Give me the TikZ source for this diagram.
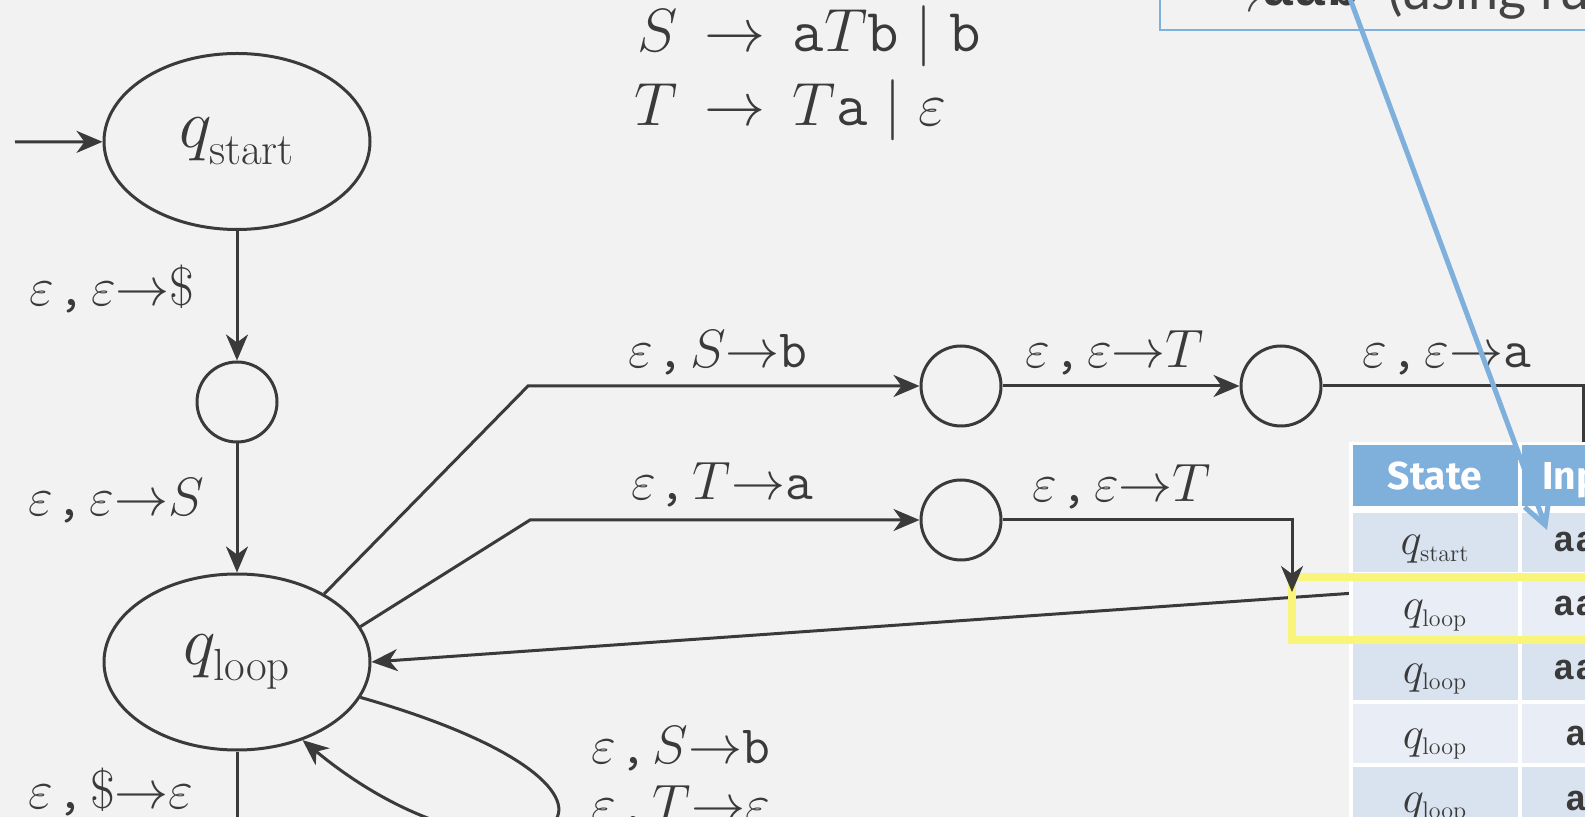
\RequirePackage{fix-cm}
\documentclass[tikz,border=0pt]{standalone}
\usepackage{fontspec}
\usepackage{amsmath}
\usetikzlibrary{arrows.meta,shapes.geometric}
\newfontfamily\firafont{Fira Sans}
\newfontfamily\lmonofont{Liberation Mono}
\newfontfamily\latofont{Lato}
\definecolor{bg}{HTML}{F2F2F2}
\definecolor{dk}{HTML}{3A3A3A}
\definecolor{blu}{HTML}{7FB0DC}
\definecolor{rowA}{HTML}{D9E3EF}
\definecolor{rowB}{HTML}{E9EDF5}
\definecolor{yel}{HTML}{F8F57A}
\definecolor{anntext}{HTML}{444444}
\newcommand\lblsize{\fontsize{27pt}{32pt}\selectfont}
\newcommand\tto{\mathord{\to}}
\newcommand\gto{\mathrel{\,\to\,}}
\newcommand\ve{\varepsilon}
\newcommand\cma{\mkern1mu\texttt{,}\mkern2mu}
\newcommand\bigsub[1]{\raisebox{-3pt}{\fontsize{22.5pt}{24pt}\selectfont #1}}
\begin{document}
\begin{tikzpicture}[x=0.5pt,y=-0.5pt,
  statenode/.style={ellipse, draw=dk, line width=1.5pt, fill=bg, minimum width=133pt, minimum height=88pt, inner sep=0pt, text=dk},
  midnode/.style={circle, draw=dk, line width=1.5pt, fill=bg, minimum size=40pt, inner sep=0pt},
  edge/.style={draw=dk, line width=1.5pt},
  arr/.style={edge, -{Stealth[length=13pt,width=11pt,inset=4pt]}},
  lbl/.style={anchor=base, inner sep=0pt, text=dk, font=\lblsize},
  gram/.style={anchor=base west, inner sep=0pt, text=dk, font=\fontsize{30.5pt}{36pt}\selectfont},
  cellq/.style={anchor=base, inner sep=0pt, text=dk, font=\fontsize{22.5pt}{26pt}\selectfont},
  cellmono/.style={anchor=base west, inner sep=0pt, text=dk, font=\lmonofont\bfseries\fontsize{18pt}{22pt}\selectfont},
  hdrtext/.style={anchor=base, inner sep=0pt, text=white, font=\firafont\bfseries\fontsize{19.5pt}{23pt}\selectfont}
]
\useasboundingbox (0,0) rectangle (1585,817);
\clip (0,0) rectangle (1585,817);
\fill[bg] (0,0) rectangle (1585,817);

% grammar
\node[gram] (g1) at (637,52) {$S\gto\mathtt{a}T\mathtt{b}\mid\mathtt{b}$};
\node[gram] (g2) at (634,126) {$T\gto T\mathtt{a}\mid\varepsilon$};

% states
\node[statenode] (qstart) at (237,141.5) {\raisebox{-2pt}{\fontsize{34.5pt}{40pt}\selectfont $q_{\bigsub{start}}$}};
\node[midnode] (c1) at (237,402) {};
\node[statenode] (qloop) at (237,662) {\raisebox{-2pt}{\fontsize{34.5pt}{40pt}\selectfont $q_{\bigsub{loop}}$}};
\node[midnode] (c2) at (961,386) {};
\node[midnode] (c3) at (1281,386) {};
\node[midnode] (c4) at (961,520) {};

\coordinate (init) at (15,142);
\coordinate (b1) at (528,386);
\coordinate (b2) at (530,520);
\coordinate (c4turn) at (1292,520);
\coordinate (c4end) at (1292,592);
\coordinate (ret) at (1583,577);
\coordinate (qout) at (237,900);

% edges
\draw[arr] (init) -- (qstart);
\draw[arr] (qstart) -- (c1);
\draw[arr] (c1) -- (qloop);
\draw[arr] (qloop.38) -- (b1) -- (c2);
\draw[arr] (c2) -- (c3);
\draw[edge] (c3) -| (ret);
\draw[arr] (qloop.16) -- (b2) -- (c4);
\draw[arr] (ret) -- (qloop.east);
\draw[arr] (qloop.-16) .. controls (720,800) and (520,920) .. (qloop.-50);
\draw[arr] (qloop) -- (qout);

% labels
\node[lbl] (l1) at (112,306) {$\ve\cma\ve\tto\$$};
\node[lbl] (l2) at (116,516) {$\ve\cma\ve\tto S$};
\node[lbl] (l3) at (718,368) {$\ve\cma S\tto\mathtt{b}$};
\node[lbl] (l4) at (1115,368) {$\ve\cma\ve\tto T$};
\node[lbl] (l5) at (1447,368) {$\ve\cma\ve\tto\mathtt{a}$};
\node[lbl] (l6) at (722,500) {$\ve\cma T\tto\mathtt{a}$};
\node[lbl] (l7) at (1122,502) {$\ve\cma\ve\tto T$};
\node[lbl] (l8) at (111,808) {$\ve\cma\$\tto\varepsilon$};
\node[lbl, anchor=base west] (l9) at (591,763) {$\ve\cma S\tto\mathtt{b}$};
\node[lbl, anchor=base west] (l10) at (591,822) {$\ve\cma T\tto\varepsilon$};

% table
\fill[white] (1349,442) rectangle (1600,830);
\fill[blu] (1353,445) rectangle (1518,506);
\fill[blu] (1522,445) rectangle (1600,506);
\fill[rowA] (1353,513) rectangle (1518,572);
\fill[rowA] (1522,513) rectangle (1600,572);
\fill[rowB] (1353,576) rectangle (1518,636);
\fill[rowB] (1522,576) rectangle (1600,636);
\fill[rowA] (1353,640) rectangle (1518,700);
\fill[rowA] (1522,640) rectangle (1600,700);
\fill[rowB] (1353,704) rectangle (1518,763);
\fill[rowB] (1522,704) rectangle (1600,763);
\fill[rowA] (1353,767) rectangle (1518,830);
\fill[rowA] (1522,767) rectangle (1600,830);

\node[hdrtext] (h1) at (1435,490) {State};
\node[hdrtext, anchor=base west] (h2) at (1542,490) {Inp};
\node[cellq] (s1) at (1435,555) {$q_{\mbox{\fontsize{12pt}{14pt}\selectfont start}}$};
\node[cellq] (s2) at (1435,620) {$q_{\mbox{\fontsize{12pt}{14pt}\selectfont loop}}$};
\node[cellq] (s3) at (1435,683) {$q_{\mbox{\fontsize{12pt}{14pt}\selectfont loop}}$};
\node[cellq] (s4) at (1435,748) {$q_{\mbox{\fontsize{12pt}{14pt}\selectfont loop}}$};
\node[cellq] (s5) at (1435,812) {$q_{\mbox{\fontsize{12pt}{14pt}\selectfont loop}}$};
\node[cellmono] (i1) at (1553,552) {aa};
\node[cellmono] (i2) at (1553,616) {aa};
\node[cellmono] (i3) at (1553,680) {aa};
\node[cellmono] (i4) at (1565,745) {a};
\node[cellmono] (i5) at (1565,810) {a};

% highlight
\draw[yel, line width=4pt] (1700,577) -- (1292,577) -- (1292,640) -- (1700,640);
\draw[arr] (c4) -- (c4turn) -- (c4end);

% annotation box
\node[draw=blu, line width=0.8pt, anchor=south west, minimum width=300pt, minimum height=60pt, inner sep=0pt] (annbox) at (1159,31) {};
\node[anchor=base west, inner sep=0pt, text=anntext, font=\fontsize{26pt}{30pt}\selectfont] (annarrow) at (1212,12) {$\rightarrow$};
\node[anchor=base west, inner sep=0pt, text=dk, font=\lmonofont\bfseries\fontsize{27pt}{30pt}\selectfont] (annaab) at (1262,6) {aab};
\node[anchor=base west, inner sep=0pt, text=anntext, font=\latofont\fontsize{27pt}{30pt}\selectfont] (annuse) at (1388,10) {(using ru};
\coordinate (annsrc) at (1345,-15);
\coordinate (tip) at (1547,530);
\draw[blu, line width=2.5pt, -{Straight Barb[length=12pt,width=13pt]}] (annsrc) -- (tip);
\end{tikzpicture}
\end{document}
